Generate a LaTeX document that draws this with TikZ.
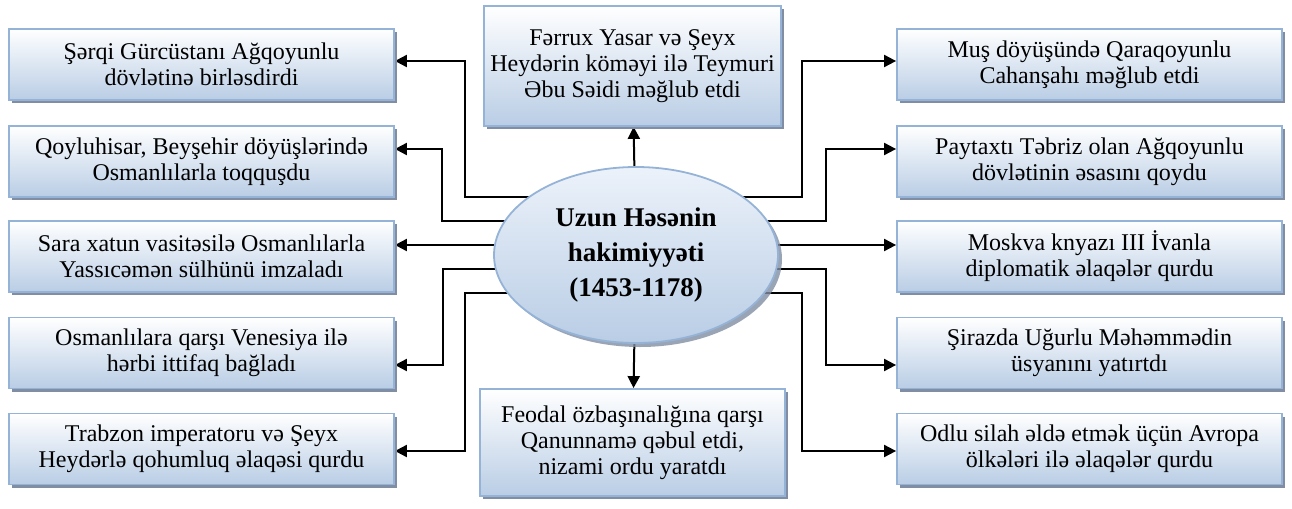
\documentclass[tikz,border=0pt]{standalone}
\usepackage{fontspec}
\setmainfont{Liberation Serif}
\usetikzlibrary{arrows.meta,shadows,backgrounds,shapes.geometric}
\definecolor{khung}{RGB}{149,179,215}
\definecolor{nen}{RGB}{185,205,229}
\definecolor{nenust}{RGB}{236,242,250}
\definecolor{bong}{RGB}{128,141,163}
\begin{document}
\begin{tikzpicture}[x=0.5pt,y=-0.5pt,
	hop/.style={rectangle, draw=khung, line width=0.9pt, top color=white, bottom color=nen,
		drop shadow={shadow xshift=1.5pt, shadow yshift=-1.5pt, fill=bong, opacity=1},
		align=center, inner sep=1pt, font=\fontsize{12}{13}\selectfont},
	yan/.style={hop, minimum width=192.5pt, minimum height=35.5pt},
	ok/.style={-{Triangle[length=6pt,width=6pt]}, line width=1pt}]
				\useasboundingbox (0,0) rectangle (1292,509);
				\path
				(636,255) node[ellipse, draw=khung, line width=0.9pt, top color=nenust, bottom color=nen,
					drop shadow={shadow xshift=2pt, shadow yshift=-2pt, fill=bong, opacity=0.8},
					minimum width=142pt, minimum height=88pt, inner sep=0pt, align=center,
					font=\fontsize{13.5}{17.5}\selectfont\bfseries](merkez){Uzun Həsənin\\hakimiyyəti\\(1453-1178)}
				(632.5,66) node[hop, minimum width=148.5pt, minimum height=60pt](ust){Fərrux Yasar və Şeyx\\Heydərin köməyi ilə Teymuri\\Əbu Səidi məğlub etdi}
				(632.5,442.5) node[hop, minimum width=152.5pt, minimum height=53.5pt](alt){Feodal özbaşınalığına qarşı\\Qanunnamə qəbul etdi,\\nizami ordu yaratdı}
				(201.5,64.5) node[yan](sol1){Şərqi Gürcüstanı Ağqoyunlu\\dövlətinə birləsdirdi}
				(201.5,161.5) node[yan](sol2){Qoyluhisar, Beyşehir döyüşlərində\\Osmanlılarla toqquşdu}
				(201.5,256.5) node[yan](sol3){Sara xatun vasitəsilə Osmanlılarla\\Yassıcəmən sülhünü imzaladı}
				(201.5,353) node[yan](sol4){Osmanlılara qarşı Venesiya ilə\\hərbi ittifaq bağladı}
				(201.5,449) node[yan](sol5){Trabzon imperatoru və Şeyx\\Heydərlə qohumluq əlaqəsi qurdu}
				(1089.5,64.5) node[yan](sag1){Muş döyüşündə Qaraqoyunlu\\Cahanşahı məğlub etdi}
				(1089.5,161.5) node[yan](sag2){Paytaxtı Təbriz olan Ağqoyunlu\\dövlətinin əsasını qoydu}
				(1089.5,256.5) node[yan](sag3){Moskva knyazı III İvanla\\diplomatik əlaqələr qurdu}
				(1089.5,353) node[yan](sag4){Şirazda Uğurlu Məhəmmədin\\üsyanını yatırtdı}
				(1089.5,449) node[yan](sag5){Odlu silah əldə etmək üçün Avropa\\ölkələri ilə əlaqələr qurdu}
				;
				\coordinate (k1) at (465,61);
				\coordinate (k2) at (442,149);
				\coordinate (k4) at (443,365);
				\coordinate (k5) at (465,451);
				\coordinate (m1) at (802,61);
				\coordinate (m2) at (826,149);
				\coordinate (m4) at (826,365);
				\coordinate (m5) at (802,451);
				\begin{scope}[on background layer]
				\draw[ok] (merkez) -- (ust);
				\draw[ok] (merkez) -- (alt);
				\draw[ok] (merkez.center |- 0,197) -| (k1) -- (sol1.east |- k1);
				\draw[ok] (merkez.center |- 0,221) -| (k2) -- (sol2.east |- k2);
				\draw[ok] (merkez.center |- 0,245) -- (sol3.east |- 0,245);
				\draw[ok] (merkez.center |- 0,269) -| (k4) -- (sol4.east |- k4);
				\draw[ok] (merkez.center |- 0,293) -| (k5) -- (sol5.east |- k5);
				\draw[ok] (merkez.center |- 0,197) -| (m1) -- (sag1.west |- m1);
				\draw[ok] (merkez.center |- 0,221) -| (m2) -- (sag2.west |- m2);
				\draw[ok] (merkez.center |- 0,245) -- (sag3.west |- 0,245);
				\draw[ok] (merkez.center |- 0,269) -| (m4) -- (sag4.west |- m4);
				\draw[ok] (merkez.center |- 0,293) -| (m5) -- (sag5.west |- m5);
				\end{scope}
			\end{tikzpicture}
\end{document}
